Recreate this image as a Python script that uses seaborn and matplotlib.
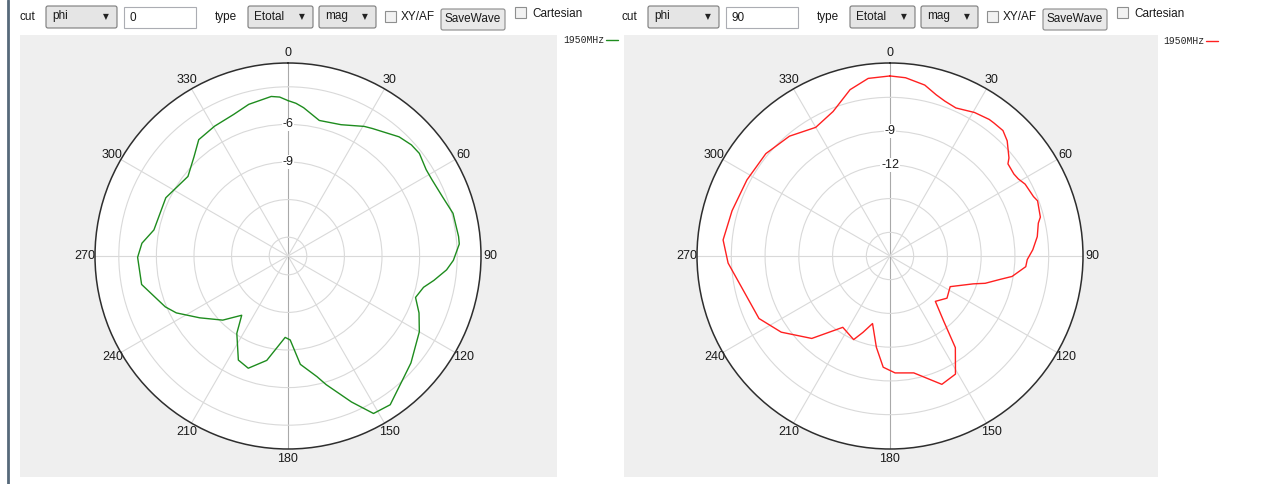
import numpy as np
import pandas as pd
import seaborn as sns
import matplotlib.pyplot as plt
from matplotlib.patches import Rectangle, FancyBboxPatch

# phi = 0 cut (green), angle in deg clockwise from top, gain in dB
angle_phi0 = [0, 3, 6, 13, 22, 30.5, 33.5, 43, 48, 52, 58, 62, 69, 75.5, 83.5, 86, 91.5, 95,
              99.5, 103, 108, 113.5, 120, 131, 136.5, 145.5, 151.5, 156.5, 163.5, 166.5,
              173.5, 178.5, 182, 191.5, 199.5, 205.5, 213.5, 218, 225.5, 235, 243, 247.5,
              259, 269.5, 275, 281, 295.5, 308.5, 316.5, 322.5, 330.5, 339, 345.5, 354, 357]
gain_phi0 = [-4.1, -4.3, -4.6, -5.4, -5.2, -4.5, -4.3, -3.5, -3.25, -3.2, -3.5, -3.5, -3.3,
             -2.9, -2.8, -2.8, -3.3, -3.8, -4.7, -5.4, -5.8, -5.1, -4.4, -3.5, -3.1, -2.1,
             -2.2, -3.8, -5.8, -6.6, -7.8, -9.8, -10.0, -8.0, -7.0, -7.3, -9.1, -10.5, -9.2,
             -7.9, -6.5, -5.9, -4.6, -4.5, -4.8, -5.6, -5.7, -6.3, -5.6, -4.8, -4.6, -4.4,
             -4.0, -3.7, -3.8]

# phi = 90 cut (red)
angle_phi90 = [0, 5, 11.5, 16, 19.5, 24, 30.5, 36, 38, 42, 45.5, 50.5, 52, 56.5, 59, 62,
               67.5, 69.5, 75.5, 77.5, 82.5, 87.5, 91.5, 94.5, 99.5, 102, 106, 108.5, 117,
               126.5, 135, 140.5, 144.5, 151, 158, 168.5, 177.5, 183.5, 188.5, 194.5, 199.5,
               203.5, 213.5, 223.5, 235, 244.5, 257, 267.5, 275.5, 286, 298, 309.5, 320, 330,
               338.5, 346.5, 353]
gain_phi90 = [-4.1, -4.2, -4.6, -5.2, -5.5, -5.7, -5.3, -5.1, -5.1, -5.1, -5.5, -6.4, -6.8,
              -6.9, -6.8, -6.5, -6.3, -6.1, -6.3, -6.6, -6.9, -7.4, -7.9, -8.0, -9.1, -10.1,
              -11.3, -12.3, -14.1, -13.8, -14.4, -12.6, -10.1, -8.1, -7.8, -9.5, -9.7, -10.2,
              -11.9, -13.9, -12.9, -12.0, -12.5, -10.0, -8.3, -7.2, -6.7, -5.7, -5.2, -5.5,
              -5.7, -5.8, -6.2, -6.9, -6.3, -4.9, -4.2]

theta_ticks = list(range(0, 360, 30))
legend_label = "1950MHz"

sns.set_style("white")
plt.rcParams['font.family'] = ['Liberation Sans', 'DejaVu Sans']

W, H = 1261, 484
fig = plt.figure(figsize=(W / 100, H / 100), dpi=100)
fig.patch.set_facecolor('white')

# background / UI layer in pixel coords
bg = fig.add_axes([0, 0, 1, 1], zorder=0)
bg.set_xlim(0, W)
bg.set_ylim(H, 0)
bg.axis('off')
bg.axvline(8, color='#56697a', lw=2)

ui_font = dict(fontsize=8.5, color='#1a1a1a', va='center')


def combo(x0, x1, text):
    bg.add_patch(FancyBboxPatch((x0, 6), x1 - x0, 22, boxstyle='round,pad=0,rounding_size=2',
                                fc='#e5e5e5', ec='#7a7a7a', lw=0.8))
    bg.text(x0 + 6, 16.5, text, **ui_font)
    bg.text(x1 - 11, 17, '▼', fontsize=5.5, color='#222222', ha='center', va='center',
            family='DejaVu Sans')


def checkbox(x0, y0):
    bg.add_patch(Rectangle((x0, y0), 11, 11, fc='#f2f2f2', ec='#8e8f8f', lw=0.8))


def panel_ui(off, cut_value):
    bg.text(19 + off, 17, 'cut', **ui_font)
    combo(46 + off, 117 + off, 'phi')
    bg.add_patch(Rectangle((124 + off, 7), 72, 21, fc='white', ec='#abadb3', lw=0.8))
    bg.text(129 + off, 18, cut_value, **ui_font)
    bg.text(215 + off, 17, 'type', **ui_font)
    combo(248 + off, 313 + off, 'Etotal')
    combo(319 + off, 376 + off, 'mag')
    checkbox(385 + off, 11)
    bg.text(401 + off, 17, 'XY/AF', **ui_font)
    bg.add_patch(FancyBboxPatch((441 + off, 9), 64, 21, boxstyle='round,pad=0,rounding_size=2',
                                fc='#e9e9e9', ec='#8a8a8a', lw=0.8))
    bg.text(473 + off, 19.5, 'SaveWave', ha='center', fontsize=8.5, color='#1a1a1a', va='center')
    checkbox(515 + off, 7)
    bg.text(532 + off, 14, 'Cartesian', **ui_font)


panel_ui(0, '0')
panel_ui(602, '90')

bg.add_patch(Rectangle((20, 35), 537, 442, fc='#efefef', ec='none'))
bg.add_patch(Rectangle((624, 35), 534, 442, fc='#efefef', ec='none'))


def polar_panel(cx, angles, gains, color, rlim, rticks, rlabels, legend_xy):
    R = 193
    ax = fig.add_axes([(cx - R) / W, (H - 256 - R) / H, 2 * R / W, 2 * R / H],
                      projection='polar', zorder=1)
    ax.set_theta_zero_location('N')
    ax.set_theta_direction(-1)
    ax.set_facecolor('white')

    df = pd.DataFrame({'angle': angles + [angles[0] + 360],
                       'gain': gains + [gains[0]]})
    df['theta'] = np.deg2rad(df['angle'])
    sns.lineplot(data=df, x='theta', y='gain', ax=ax, color=color, lw=1.0,
                 sort=False, estimator=None, label=legend_label)

    ax.set_rlim(*rlim)
    ax.set_yticks(rticks)
    ax.set_yticklabels([])
    for r, lab in zip(rticks, rlabels):
        if lab:
            ax.text(0, r, lab, ha='center', va='center', fontsize=9, color='#1a1a1a',
                    bbox=dict(facecolor='white', edgecolor='none', pad=0.6), zorder=3)
    ax.set_thetagrids(theta_ticks, [str(t) for t in theta_ticks], fontsize=9, color='#1a1a1a')
    ax.tick_params(axis='x', pad=-3.5)
    ax.grid(True, color='#d9d9d9', lw=0.8)
    gl = ax.xaxis.get_gridlines()
    gl[0].set_color('#a9a9a9')
    gl[6].set_color('#a9a9a9')
    ax.spines['polar'].set_color('#2e2e2e')
    ax.spines['polar'].set_linewidth(1.1)
    ax.set_xlabel('')
    ax.set_ylabel('')

    ax.legend(loc='upper left', bbox_to_anchor=(legend_xy[0] / W, 1 - legend_xy[1] / H),
              bbox_transform=fig.transFigure, frameon=False, markerfirst=False,
              handlelength=1.3, handletextpad=0.15, borderpad=0, borderaxespad=0,
              prop=dict(family='Liberation Mono', size=7))
    return ax


polar_panel(288, angle_phi0, gain_phi0, '#1e8c1e', (-16.5, -1.1),
            [-15, -12, -9, -6, -3], ['', '', '-9', '-6', ''], (563, 35))
polar_panel(890, angle_phi90, gain_phi90, '#ff2020', (-20.1, -2.95),
            [-18, -15, -12, -9, -6], ['', '', '-12', '-9', ''], (1163, 36))

fig.savefig('out.png', dpi=100)
